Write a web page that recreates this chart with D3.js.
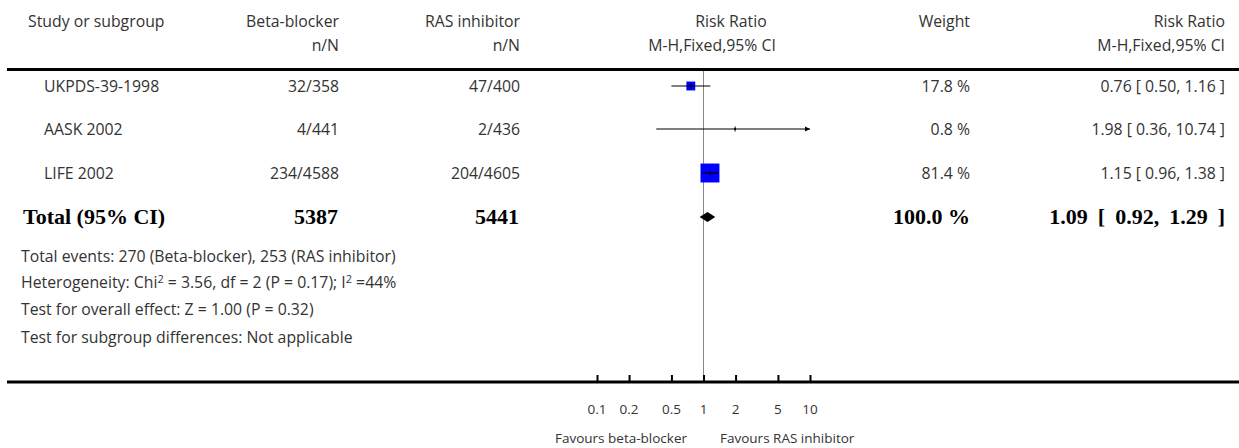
<!DOCTYPE html>
<html>
<head>
<meta charset="utf-8">
<script src="https://cdn.jsdelivr.net/npm/d3@7"></script>
<style>
  html, body { margin: 0; padding: 0; background: #fff; }
  svg { display: block; }
  text { font-family: "Open Sans", Lato, sans-serif; fill: #333; }
  .bold { font-family: "Liberation Serif", "Times New Roman", serif; font-weight: bold; fill: #000; }
</style>
</head>
<body>
<svg id="chart" width="1239" height="448"></svg>
<script>
// ---- data ----
const studies = ["UKPDS-39-1998", "AASK 2002", "LIFE 2002"];
const betaEvents = ["32/358", "4/441", "234/4588"];
const rasEvents = ["47/400", "2/436", "204/4605"];
const weights = [17.8, 0.8, 81.4];
const rr = [0.76, 1.98, 1.15];
const ciLow = [0.50, 0.36, 0.96];
const ciHigh = [1.16, 10.74, 1.38];
const totalLabel = "Total (95% CI)";
const totalBeta = "5387";
const totalRas = "5441";
const totalWeight = 100.0;
const totalRR = 1.09, totalLow = 0.92, totalHigh = 1.29;
const footerLines = [
  "Total events: 270 (Beta-blocker), 253 (RAS inhibitor)",
  "HETERO",
  "Test for overall effect: Z = 1.00 (P = 0.32)",
  "Test for subgroup differences: Not applicable"
];
const tickValues = [0.1, 0.2, 0.5, 1, 2, 5, 10];
const tickLabels = ["0.1", "0.2", "0.5", "1", "2", "5", "10"];
const favoursLeft = "Favours beta-blocker";
const favoursRight = "Favours RAS inhibitor";

// ---- layout ----
const svg = d3.select("#chart");
const x = d3.scaleLog().domain([0.1, 10]).range([597, 810]);
const rowY = [86, 129, 173];
const totalY = 217;
const fs = 15.8;
const bfs = 22;
const colStudy = 44, colBeta = 339, colRas = 520, colWeight = 970, colRR = 1225;

const fmt2 = d3.format(".2f");
const rrText = (m, l, h) => `${fmt2(m)} [ ${fmt2(l)}, ${fmt2(h)} ]`;

function txt(xp, yp, s, anchor, cls) {
  return svg.append("text").attr("x", xp).attr("y", yp)
    .attr("text-anchor", anchor || "start")
    .attr("class", cls || null)
    .style("font-size", fs + "px").text(s);
}
function btxt(xp, yp, s, anchor) {
  return svg.append("text").attr("x", xp).attr("y", yp)
    .attr("text-anchor", anchor || "start").attr("class", "bold")
    .style("font-size", bfs + "px").text(s);
}

// headers
txt(28, 27, "Study or subgroup");
txt(colBeta, 27, "Beta-blocker", "end");
txt(colRas, 27, "RAS inhibitor", "end");
txt(731, 27, "Risk Ratio", "middle");
txt(colWeight, 27, "Weight", "end");
txt(colRR, 27, "Risk Ratio", "end");
txt(colBeta, 51, "n/N", "end");
txt(colRas, 51, "n/N", "end");
txt(712, 51, "M-H,Fixed,95% CI", "middle");
txt(colRR, 51, "M-H,Fixed,95% CI", "end");

// separator line
svg.append("line").attr("x1", 7).attr("x2", 1239).attr("y1", 69.5).attr("y2", 69.5)
  .attr("stroke", "#000").attr("stroke-width", 3);

// vertical reference line at 1
svg.append("line").attr("x1", x(1)).attr("x2", x(1)).attr("y1", 71).attr("y2", 381)
  .attr("stroke", "#888").attr("stroke-width", 1);

// study rows
studies.forEach((s, i) => {
  const ty = rowY[i] + 5.5;
  txt(colStudy, ty, s);
  txt(colBeta, ty, betaEvents[i], "end");
  txt(colRas, ty, rasEvents[i], "end");
  txt(colWeight, ty, weights[i].toFixed(1) + " %", "end");
  txt(colRR, ty, rrText(rr[i], ciLow[i], ciHigh[i]), "end");

  const [d0, d1] = x.domain();
  const lo = Math.max(ciLow[i], d0), hi = Math.min(ciHigh[i], d1);
  const side = 2.1 * Math.sqrt(weights[i]);
  svg.append("rect")
    .attr("x", x(rr[i]) - side / 2).attr("y", rowY[i] - side / 2)
    .attr("width", side).attr("height", side).attr("fill", "#0000ff");
  svg.append("line").attr("x1", x(lo)).attr("x2", x(hi))
    .attr("y1", rowY[i]).attr("y2", rowY[i])
    .attr("stroke", "#000").attr("stroke-width", 1.2);
  svg.append("line").attr("x1", x(rr[i])).attr("x2", x(rr[i]))
    .attr("y1", rowY[i] - 2.5).attr("y2", rowY[i] + 2.5)
    .attr("stroke", "#000").attr("stroke-width", 1);
  if (ciHigh[i] > d1) {
    const ax = x(d1);
    svg.append("path")
      .attr("d", `M${ax},${rowY[i]} L${ax - 5},${rowY[i] - 2.5} L${ax - 5},${rowY[i] + 2.5} Z`)
      .attr("fill", "#000");
  }
  if (ciLow[i] < d0) {
    const ax = x(d0);
    svg.append("path")
      .attr("d", `M${ax},${rowY[i]} L${ax + 5},${rowY[i] - 2.5} L${ax + 5},${rowY[i] + 2.5} Z`)
      .attr("fill", "#000");
  }
});

// total row
const by = totalY + 7;
btxt(23, by, totalLabel);
btxt(colBeta - 1, by, totalBeta, "end");
btxt(colRas - 1, by, totalRas, "end");
btxt(colWeight, by, totalWeight.toFixed(1) + " %", "end");
btxt(colRR, by, rrText(totalRR, totalLow, totalHigh), "end").style("word-spacing", "4.5px");
svg.append("path")
  .attr("d", `M${x(totalLow)},${totalY} L${x(totalRR)},${totalY - 5} L${x(totalHigh)},${totalY} L${x(totalRR)},${totalY + 5} Z`)
  .attr("fill", "#000");

// footer lines
const footY = [262, 288, 315, 343];
footerLines.forEach((s, i) => {
  if (s === "HETERO") {
    const t = svg.append("text").attr("x", 21).attr("y", footY[i]).style("font-size", fs + "px");
    t.append("tspan").text("Heterogeneity: Chi");
    t.append("tspan").attr("dy", -5).style("font-size", "11px").text("2");
    t.append("tspan").attr("dy", 5).text(" = 3.56, df = 2 (P = 0.17); I");
    t.append("tspan").attr("dy", -5).style("font-size", "11px").text("2");
    t.append("tspan").attr("dy", 5).text(" =44%");
  } else {
    txt(21, footY[i], s);
  }
});

// bottom axis
svg.append("line").attr("x1", 7).attr("x2", 1239).attr("y1", 382).attr("y2", 382)
  .attr("stroke", "#000").attr("stroke-width", 3);
const axis = d3.axisTop(x).tickValues(tickValues).tickSize(6).tickFormat("");
const ag = svg.append("g").attr("transform", "translate(0,381)").call(axis);
ag.select(".domain").remove();
ag.selectAll(".tick line").attr("stroke", "#000").attr("stroke-width", 2);
tickValues.forEach((v, i) => {
  svg.append("text").attr("x", x(v)).attr("y", 414).attr("text-anchor", "middle")
    .style("font-size", "13.5px").text(tickLabels[i]);
});
svg.append("text").attr("x", 687).attr("y", 443).attr("text-anchor", "end").style("font-size", "13.5px").text(favoursLeft);
svg.append("text").attr("x", 720).attr("y", 443).attr("text-anchor", "start").style("font-size", "13.5px").text(favoursRight);
</script>
</body>
</html>
